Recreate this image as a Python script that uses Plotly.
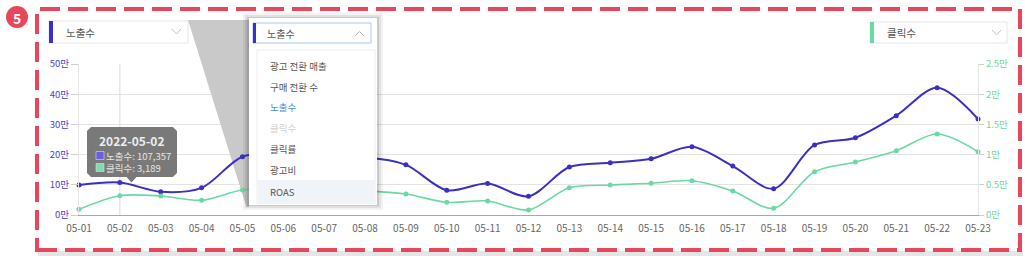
import plotly.graph_objects as go

# ---------------- data ----------------
dates = ["05-01", "05-02", "05-03", "05-04", "05-05", "05-06", "05-07", "05-08",
         "05-09", "05-10", "05-11", "05-12", "05-13", "05-14", "05-15", "05-16",
         "05-17", "05-18", "05-19", "05-20", "05-21", "05-22", "05-23"]
impressions = [99000, 107357, 77000, 90000, 193000, 200000, 186000, 190000,
               166000, 82000, 104000, 62000, 159000, 173000, 186000, 226000,
               162000, 87000, 232000, 256000, 329000, 421000, 318000]
clicks = [940, 3189, 3150, 2430, 4140, 4300, 4100, 4000,
          3480, 2100, 2320, 830, 4520, 4970, 5250, 5680,
          3970, 1110, 7170, 8770, 10650, 13410, 10480]
left_tickvals = [0, 100000, 200000, 300000, 400000, 500000]
left_ticktext = ["0만", "10만", "20만", "30만", "40만", "50만"]
right_tickvals = [0, 5000, 10000, 15000, 20000, 25000]
right_ticktext = ["0만", "0.5만", "1만", "1.5만", "2만", "2.5만"]
menu_items = ["광고 전환 매출", "구매 전환 수", "노출수", "클릭수", "클릭률", "광고비", "ROAS"]
tooltip_title = "2022-05-02"
tooltip_rows = [("노출수", "107,357"), ("클릭수", "3,189")]

x_idx = list(range(len(dates)))

# ---------------- geometry helpers (pixel -> paper) ----------------
W, H = 1025, 261
L, R, T, B = 79, 978, 64, 215
PW, PH = R - L, B - T

def px(x):
    return (x - L) / PW

def py(y):
    return (B - y) / PH

def dx(x):
    return (x - L) / PW * (len(dates) - 1)

def dy(y):
    return (B - y) / PH * 500000

FONT = "Noto Sans CJK KR, Noto Sans, sans-serif"
BLUE = "#3b2fc4"
GREEN = "#6bd9a3"
RED = "#e8475b"

shapes = []
ann = []

def rect(x0, y0, x1, y1, fill="white", line=None, lw=0, layer="above", dash=None):
    d = dict(type="rect", xref="paper", yref="paper",
             x0=px(x0), x1=px(x1), y0=py(y1), y1=py(y0),
             fillcolor=fill, layer=layer,
             line=dict(width=lw, color=line if line else "rgba(0,0,0,0)"))
    if dash:
        d["line"]["dash"] = dash
    shapes.append(d)

def path(points, fill=None, line=None, lw=1, closed=True, layer="above"):
    s = "M " + " L ".join(f"{px(x):.5f},{py(y):.5f}" for x, y in points)
    if closed:
        s += " Z"
    shapes.append(dict(type="path", xref="paper", yref="paper", path=s,
                       fillcolor=fill if fill else "rgba(0,0,0,0)", layer=layer,
                       line=dict(width=lw if line else 0, color=line if line else "rgba(0,0,0,0)")))

def text(x, y, s, size=11, color="#555", xanchor="left", bold=False, align="left"):
    ann.append(dict(xref="paper", yref="paper", x=px(x), y=py(y), text=(f"<b>{s}</b>" if bold else s),
                    showarrow=False, xanchor=xanchor, yanchor="middle", align=align,
                    font=dict(family=FONT, size=size, color=color)))

# card shadow + red dashed frame
rect(38, 251, 1023, 256, fill="rgba(0,0,0,0.10)", layer="below")
rect(37, 9, 1020, 250, fill="rgba(0,0,0,0)", line=RED, lw=4, dash="20px,8px", layer="above")

# badge
shapes.append(dict(type="circle", xref="paper", yref="paper",
                   x0=px(6), x1=px(28), y0=py(28), y1=py(6),
                   fillcolor=RED, line=dict(width=0), layer="above"))
text(17, 17.5, "5", size=14, color="white", xanchor="center", bold=True)

# left dropdown
rect(49, 21, 188, 43, fill="white", line="#e6e6e6", lw=1)
rect(49, 21, 53, 43, fill=BLUE)
text(64, 32.5, "노출수", size=10.5, color="#555")
path([(172, 29), (176.5, 34), (181, 29)], line="#c4c4c4", lw=1, closed=False)

# right dropdown
rect(870, 22, 1007, 43, fill="white", line="#e6e6e6", lw=1)
rect(870, 22, 874, 43, fill=GREEN)
text(885, 32.5, "클릭수", size=10.5, color="#555")
path([(992, 30), (996.5, 35), (1001, 30)], line="#c4c4c4", lw=1, closed=False)

# gray callout: part above plot area (paper) and inside plot area (data, between gridlines & traces)
slope = (237 - 188) / (177 - 20)
x_at_top = 188 + slope * (T - 20)
path([(188, 20), (249, 20), (249, T), (x_at_top, T)], fill="#c9c9c9")
x_at_bot = 188 + slope * (207 - 20)
ppts = [(x_at_top, T), (249, T), (249, 207), (x_at_bot, 207)]
shapes.append(dict(type="path", xref="x", yref="y", layer="between",
                   path="M " + " L ".join(f"{dx(x):.4f},{dy(y):.1f}" for x, y in ppts) + " Z",
                   fillcolor="#c9c9c9", line=dict(width=0)))

# hover crosshair at 05-02
shapes.append(dict(type="line", xref="x", yref="paper", x0=x_idx[1], x1=x_idx[1], y0=0, y1=1,
                   line=dict(color="#dcdcdc", width=1), layer="between"))

# open dropdown panel
rect(243, 13, 383, 210, fill="rgba(0,0,0,0.05)")
rect(245, 15, 381, 208, fill="rgba(0,0,0,0.07)")
rect(247, 17, 379, 206, fill="rgba(0,0,0,0.10)")
rect(249, 18, 377, 205, fill="white")
rect(253, 23, 371, 43, fill="white", line="#a9c4ef", lw=1)
rect(253, 23, 256, 43, fill=BLUE)
text(265, 33, "노출수", size=10, color="#555")
path([(355, 36), (359.5, 31.5), (364, 36)], line="#b8b8b8", lw=1, closed=False)
rect(257, 50, 375, 203, fill="white", line="#ececec", lw=1)
rect(257.5, 180, 374.5, 202.5, fill="#f0f3f7")
item_y = [66, 86.7, 107.3, 128.3, 149, 170, 191.5]
for name, yy in zip(menu_items, item_y):
    col = "#555"
    if name == "노출수":
        col = "#4a90e2"
    elif name == "클릭수":
        col = "#cfcfcf"
    text(268, yy, name, size=9.5, color=col)

# tooltip
tx0, tx1, ty0, ty1, r = 87, 177, 127, 177, 4
tip = [(tx0 + r, ty0), (tx1 - r, ty0), (tx1, ty0 + r), (tx1, ty1 - r), (tx1 - r, ty1),
       (136.5, ty1), (131.5, 182.5), (126.5, ty1),
       (tx0 + r, ty1), (tx0, ty1 - r), (tx0, ty0 + r)]
path(tip, fill="rgba(110,110,110,0.92)")
text(132, 140, tooltip_title, size=12, color="#ededed", xanchor="center", bold=True)
sq_cols = ["#6a5fdc", "#80dcae"]
for i in range(len(tooltip_rows)):
    yy = 155.5 + i * 12
    rect(96, yy - 4, 104, yy + 4, fill=sq_cols[i], line="#dddddd", lw=0.6)
rows_txt = "<br>".join(f"{nm}: {val}" for nm, val in tooltip_rows)
text(104, 161.5, rows_txt, size=9.5, color="#e6e6e6")

# ---------------- figure ----------------
fig = go.Figure()
fig.add_trace(go.Scatter(x=x_idx, y=impressions, mode="lines+markers", name="노출수",
                         line=dict(color=BLUE, width=2, shape="spline", smoothing=0.9),
                         marker=dict(size=5, color=BLUE), cliponaxis=False))
fig.add_trace(go.Scatter(x=x_idx, y=clicks, mode="lines+markers", name="클릭수", yaxis="y2",
                         line=dict(color=GREEN, width=1.6, shape="spline", smoothing=0.9),
                         marker=dict(size=5, color=GREEN), cliponaxis=False))

fig.update_layout(
    width=W, height=H,
    margin=dict(l=L, r=W - R, t=T, b=H - B, pad=0),
    paper_bgcolor="white", plot_bgcolor="rgba(0,0,0,0)",
    showlegend=False, hovermode=False,
    font=dict(family=FONT),
    xaxis=dict(range=[0, len(dates) - 1], tickvals=x_idx, ticktext=dates,
               showgrid=False, zeroline=False, showline=True, linecolor="#a8a8a8", linewidth=1,
               ticks="outside", ticklen=4, tickcolor="rgba(0,0,0,0)",
               tickfont=dict(size=10, color="#666", family=FONT)),
    yaxis=dict(range=[0, 500000], tickvals=left_tickvals, ticktext=left_ticktext,
               showgrid=True, gridcolor="#e3e3e3", zeroline=False,
               showline=True, linecolor="#e6e6e6", ticks="outside", ticklen=7, tickcolor="#cfcfcf",
               tickfont=dict(size=9.5, color="#4a3fcc", family=FONT)),
    yaxis2=dict(range=[0, 25000], tickvals=right_tickvals, ticktext=right_ticktext,
                overlaying="y", side="right", showgrid=False, zeroline=False,
                showline=True, linecolor="#e6e6e6", ticks="outside", ticklen=5, tickcolor="#cfcfcf",
                tickfont=dict(size=9.5, color="#6fd8a4", family=FONT)),
    shapes=shapes, annotations=ann,
)

fig.write_html("out.html")
